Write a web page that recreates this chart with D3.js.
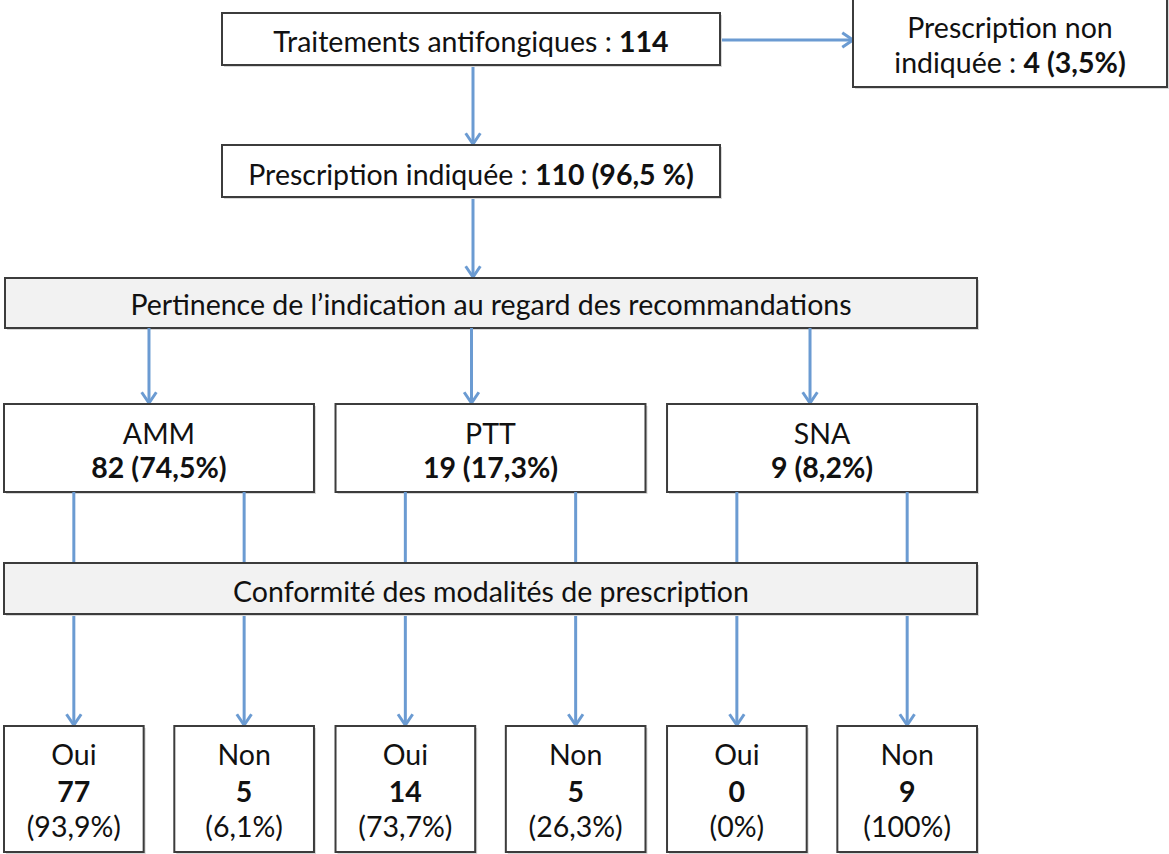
<!DOCTYPE html>
<html lang='fr'>
<head>
<meta charset='utf-8'/>
<title>Flux des prescriptions antifongiques</title>
<script src='https://d3js.org/d3.v7.min.js'></script>
<style>
  body { margin: 0; background: #fff; }
  text { font-family: Lato, 'Open Sans', sans-serif; fill: #111; }
</style>
</head>
<body>
<script>
'use strict'
const total = 114
const nonIndicated = [4, '3,5%']
const indicated = [110, '96,5 %']
const categories = ['AMM', 'PTT', 'SNA']
const categoryCounts = [82, 19, 9]
const categoryPct = ['74,5%', '17,3%', '8,2%']
const answers = ['Oui', 'Non']
const answerCounts = [77, 5, 14, 5, 0, 9]
const answerPct = ['93,9%', '6,1%', '73,7%', '26,3%', '0%', '100%']
const stageTitles = ['Pertinence de l\u2019indication au regard des recommandations',
                     'Conformité des modalités de prescription']

const W = 1169, H = 854
const blue = '#6b9bd2'
const fs = 28.5

const svg = d3.select('body').append('svg')
  .attr('width', W).attr('height', H)

const x = d3.scaleBand().domain(categories).range([4, 977]).paddingInner(0.065)
const xs = d3.scaleBand().domain(answers).range([0, x.bandwidth()]).paddingInner(0.18)

function box(x0, y0, w, h, fill) {
  svg.append('rect')
    .attr('x', x0 + 2).attr('y', y0 + 2).attr('width', w).attr('height', h)
    .attr('fill', '#d8d8d8')
  svg.append('rect')
    .attr('x', x0).attr('y', y0).attr('width', w).attr('height', h)
    .attr('fill', fill || '#fff').attr('stroke', '#3c3c3c').attr('stroke-width', 2)
}

// a text line made of normal and bold parts
function label(cx, y, parts) {
  const t = svg.append('text').attr('x', cx).attr('y', y)
    .attr('text-anchor', 'middle').attr('font-size', fs)
  parts.forEach(p => {
    t.append('tspan').text(p[0]).attr('font-weight', p[1] ? 700 : 400)
  })
}

function arrow(x1, y1, x2, y2, head) {
  svg.append('line').attr('x1', x1).attr('y1', y1).attr('x2', x2).attr('y2', y2)
    .attr('stroke', blue).attr('stroke-width', 3)
  if (!head) return
  const a = Math.atan2(y2 - y1, x2 - x1), L = 13, s = 0.6
  const p = [
    [x2 - L * Math.cos(a - s), y2 - L * Math.sin(a - s)],
    [x2, y2],
    [x2 - L * Math.cos(a + s), y2 - L * Math.sin(a + s)]
  ]
  svg.append('path').attr('d', d3.line()(p))
    .attr('fill', 'none').attr('stroke', blue).attr('stroke-width', 3)
    .attr('stroke-linejoin', 'miter')
}

// top part
const topX = 222, topW = 498
arrow(topX + topW, 40, 853, 40, true)
arrow(473, 65, 473, 144, true)
arrow(473, 197, 473, 277, true)

box(topX, 13, topW, 52)
label(topX + topW / 2, 52, [['Traitements antifongiques : ', false], [total, true]])

box(853, -2, 314, 89)
label(1010, 38, [['Prescription non', false]])
label(1010, 73, [['indiquée : ', false], [nonIndicated[0] + ' (' + nonIndicated[1] + ')', true]])

box(topX, 145, topW, 52)
label(topX + topW / 2, 185, [['Prescription indiquée : ', false], [indicated[0] + ' (' + indicated[1] + ')', true]])

// stage 1
box(5, 278, 972, 50, '#f2f2f2')
label(491, 315, [[stageTitles[0], false]])

categories.forEach((c, i) => {
  const cx = x(c) + x.bandwidth() / 2
  arrow(cx - [10, 19, 12][i], 328, cx - [10, 19, 12][i], 403, true)
  box(x(c), 404, x.bandwidth(), 88)
  label(cx, 444, [[c, false]])
  label(cx, 478, [[categoryCounts[i] + ' (' + categoryPct[i] + ')', true]])
  answers.forEach((a, j) => {
    const ax = x(c) + xs(a) + xs.bandwidth() / 2
    arrow(ax, 492, ax, 563, false)
    arrow(ax, 614, ax, 725, true)
  })
})

// stage 2
box(4, 563, 973, 51, '#f2f2f2')
label(491, 602, [[stageTitles[1], false]])

categories.forEach((c, i) => {
  answers.forEach((a, j) => {
    const k = i * 2 + j
    const bx = x(c) + xs(a)
    const cx = bx + xs.bandwidth() / 2
    box(bx, 726, xs.bandwidth(), 126)
    label(cx, 765, [[a, false]])
    label(cx, 802, [[answerCounts[k], true]])
    label(cx, 837, [['(' + answerPct[k] + ')', false]])
  })
})
</script>
</body>
</html>
